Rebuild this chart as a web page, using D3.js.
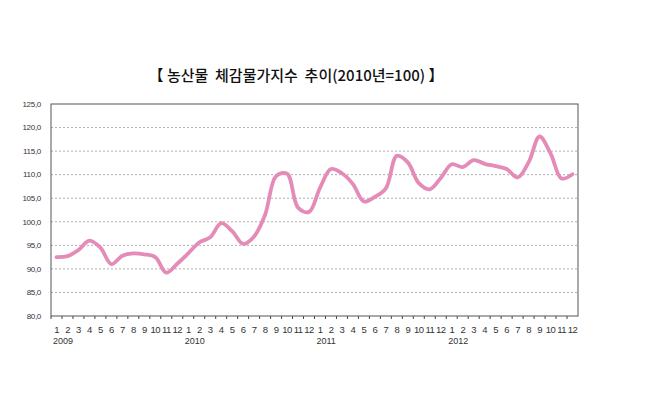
<!DOCTYPE html>
<html>
<head>
<meta charset="utf-8">
<script src="https://cdn.jsdelivr.net/npm/d3@7"></script>
<style>
  body { margin: 0; background: #fff; }
  svg { display: block; }
</style>
</head>
<body>
<svg id="chart" width="650" height="406"></svg>
<script>
const years = ["2009", "2010", "2011", "2012"];
const months = ["1","2","3","4","5","6","7","8","9","10","11","12"];
const yTicks = [80, 85, 90, 95, 100, 105, 110, 115, 120, 125];

// 농산물 체감물가지수, monthly 2009.1 - 2012.12
const values2009 = [92.5, 92.7, 94.0, 96.0, 94.5, 91.0, 92.8, 93.3, 93.1, 92.5, 89.2, 91.1];
const values2010 = [93.3, 95.6, 96.7, 99.7, 98.0, 95.3, 96.9, 101.5, 109.7, 110.2, 103.0, 102.1];
const values2011 = [107.2, 111.2, 110.3, 108.0, 104.3, 105.3, 107.1, 114.0, 112.6, 108.2, 106.9, 109.3];
const values2012 = [112.2, 111.6, 113.1, 112.3, 111.8, 111.2, 109.4, 112.6, 118.1, 114.5, 109.2, 110.1];

const data = [values2009, values2010, values2011, values2012].flatMap((vals, yi) =>
  vals.map((v, mi) => ({ key: years[yi] + "-" + months[mi], year: years[yi], month: months[mi], value: v }))
);

const svg = d3.select("#chart");
const margin = { top: 104, right: 72, bottom: 90, left: 51 };
const width = +svg.attr("width");
const height = +svg.attr("height");
const innerW = width - margin.left - margin.right;
const innerH = height - margin.top - margin.bottom;

const g = svg.append("g").attr("transform", `translate(${margin.left},${margin.top})`);

const x = d3.scaleBand()
  .domain(data.map(d => d.key))
  .range([0, innerW]);

const y = d3.scaleLinear()
  .domain([80, 125])
  .range([innerH, 0]);

// title
svg.append("text")
  .attr("x", 296)
  .attr("y", 81)
  .attr("text-anchor", "middle")
  .attr("font-family", "'Noto Sans CJK KR', sans-serif")
  .attr("font-size", 15)
  .attr("font-weight", 500)
  .attr("fill", "#111")
  .style("white-space", "pre")
  .text("【 농산물  체감물가지수  추이(2010년=100) 】");

// grid lines
g.append("g")
  .selectAll("line")
  .data(yTicks.filter(t => t > 80 && t < 125))
  .join("line")
  .attr("x1", 0)
  .attr("x2", innerW)
  .attr("y1", d => y(d))
  .attr("y2", d => y(d))
  .attr("stroke", "#999")
  .attr("stroke-width", 0.8)
  .attr("stroke-dasharray", "2,2");

// y axis labels
g.append("g")
  .selectAll("text")
  .data(yTicks)
  .join("text")
  .attr("x", -10)
  .attr("y", d => y(d))
  .attr("dy", "0.35em")
  .attr("text-anchor", "end")
  .attr("font-family", "'Liberation Sans', Arial, sans-serif")
  .attr("font-size", 8)
  .attr("fill", "#333")
  .attr("letter-spacing", "-0.3")
  .text(d => d3.format(".1f")(d).replace(".", ","));

// x axis ticks at band edges
g.append("g")
  .selectAll("line")
  .data(data)
  .join("line")
  .attr("x1", d => x(d.key))
  .attr("x2", d => x(d.key))
  .attr("y1", innerH)
  .attr("y2", innerH + 3)
  .attr("stroke", "#444")
  .attr("stroke-width", 1);

// month labels
g.append("g")
  .selectAll("text")
  .data(data)
  .join("text")
  .attr("x", d => x(d.key) + x.bandwidth() / 2)
  .attr("y", innerH + 17)
  .attr("text-anchor", "middle")
  .attr("font-family", "'Liberation Sans', Arial, sans-serif")
  .attr("font-size", 9.5)
  .attr("fill", "#333")
  .attr("letter-spacing", "-0.6")
  .text(d => d.month);

// year labels
g.append("g")
  .selectAll("text")
  .data(years)
  .join("text")
  .attr("x", d => x(d + "-1") + 2)
  .attr("y", innerH + 28)
  .attr("font-family", "'Liberation Sans', Arial, sans-serif")
  .attr("font-size", 9)
  .attr("fill", "#333")
  .text(d => d);

// frame
g.append("rect")
  .attr("width", innerW)
  .attr("height", innerH)
  .attr("fill", "none")
  .attr("stroke", "#555")
  .attr("stroke-width", 1);

// line
const line = d3.line()
  .x(d => x(d.key) + x.bandwidth() / 2)
  .y(d => y(d.value))
  .curve(d3.curveCatmullRom.alpha(0.5));

g.append("path")
  .datum(data)
  .attr("d", line)
  .attr("fill", "none")
  .attr("stroke", "#e48bb8")
  .attr("stroke-width", 3.8)
  .attr("stroke-linecap", "round")
  .attr("stroke-linejoin", "round");
</script>
</body>
</html>
